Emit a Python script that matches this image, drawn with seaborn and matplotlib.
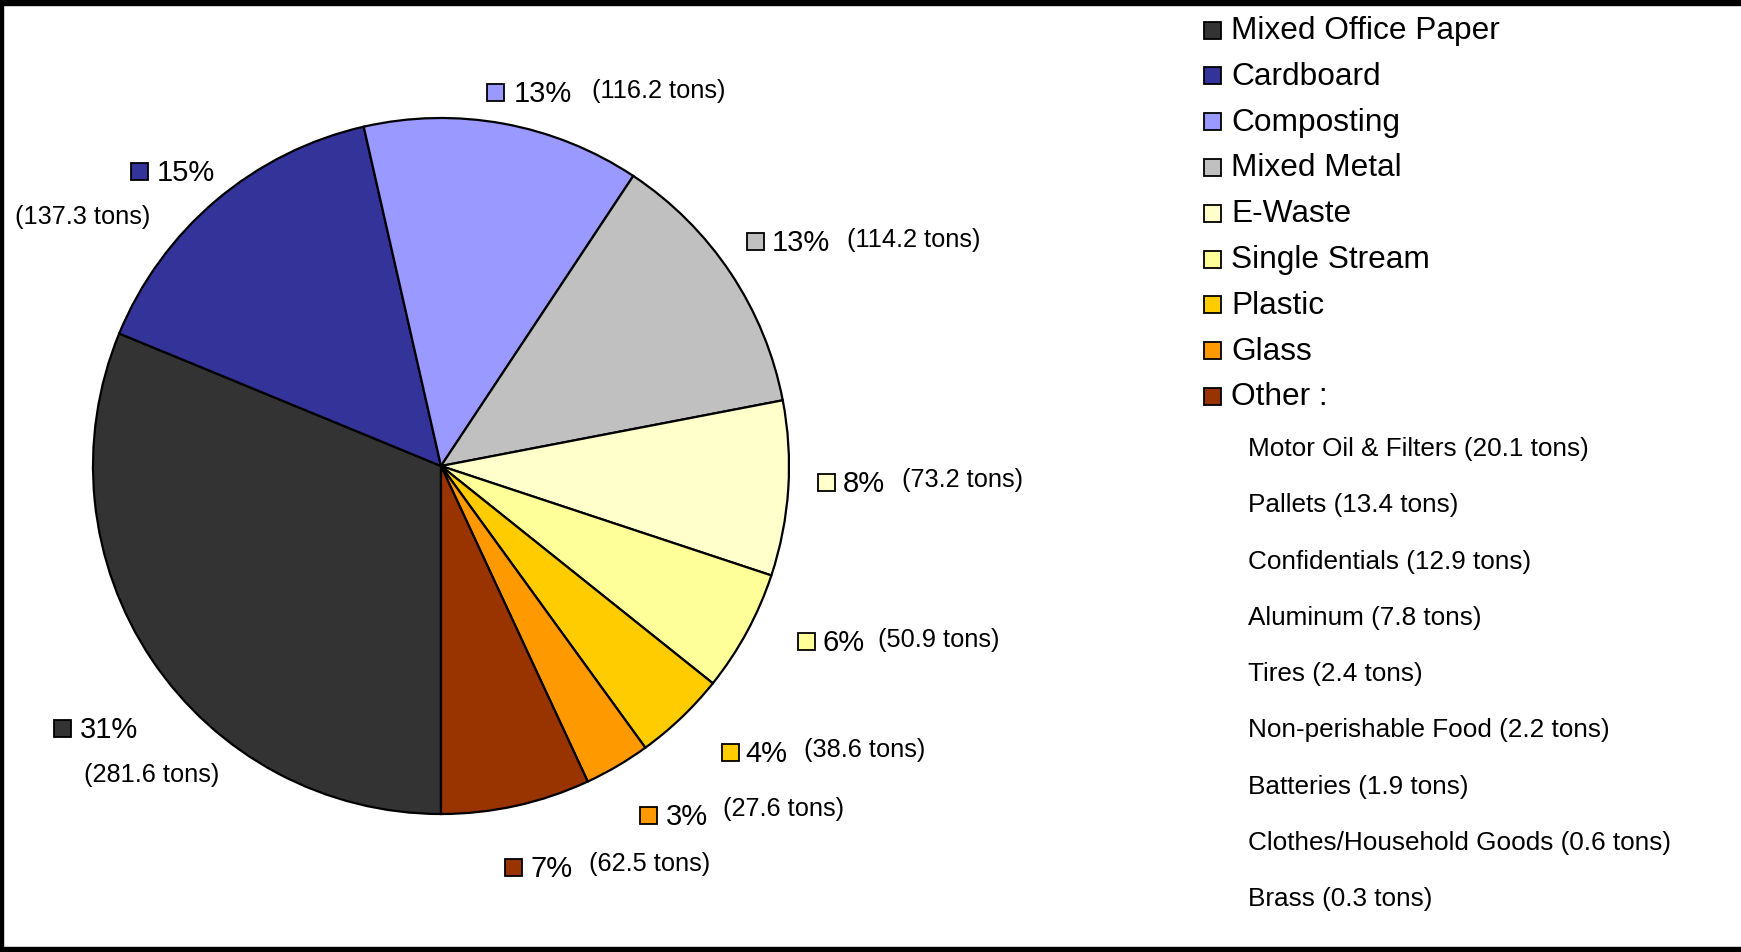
import matplotlib
matplotlib.use("Agg")
import matplotlib.pyplot as plt
from matplotlib.patches import Rectangle
import seaborn as sns

# ---------------- data ----------------
categories = ["Mixed Office Paper", "Cardboard", "Composting", "Mixed Metal",
              "E-Waste", "Single Stream", "Plastic", "Glass", "Other"]
tons = [281.6, 137.3, 116.2, 114.2, 73.2, 50.9, 38.6, 27.6, 62.5]
other_items = ["Motor Oil & Filters (20.1 tons)", "Pallets (13.4 tons)",
               "Confidentials (12.9 tons)", "Aluminum (7.8 tons)",
               "Tires (2.4 tons)", "Non-perishable Food (2.2 tons)",
               "Batteries (1.9 tons)", "Clothes/Household Goods (0.6 tons)",
               "Brass (0.3 tons)"]
colors = ["#333333", "#333399", "#9999FF", "#C0C0C0", "#FFFFCC",
          "#FFFF99", "#FFCC00", "#FF9900", "#993300"]

# ---------------- layout (pixel coords, y from top) ----------------
W, H = 1741, 952
PIE_CENTER = (441, 466)
PIE_RADIUS = 348
# label marker centre, percent text x, tons text (x, y)
label_marker = [(62, 728), (139, 171), (495, 92), (755, 241), (826, 482),
                (806, 641), (730, 752), (648, 815), (513, 867)]
label_pct_x = [80, 157, 514, 772, 843, 823, 745, 666, 530]
label_tons = [(84, 775), (15, 217), (592, 91), (847, 240), (902, 480),
              (878, 640), (804, 750), (723, 809), (589, 864)]
LEG_MARK_X = 1212
LEG_TEXT_X = 1231
LEG_Y0, LEG_DY = 30, 45.8
SUB_X = 1248
SUB_Y0, SUB_DY = 449, 56.3
MARK = 17

sns.set_theme(style="white")
plt.rcParams["font.family"] = ["Liberation Sans", "DejaVu Sans"]

fig = plt.figure(figsize=(W / 100, H / 100), dpi=100)
fig.patch.set_facecolor("white")
ax = fig.add_axes([0, 0, 1, 1])


def Y(y):
    return H - y


total = sum(tons)
ax.pie(tons, colors=colors, startangle=270, counterclock=False,
       center=(PIE_CENTER[0], Y(PIE_CENTER[1])), radius=PIE_RADIUS,
       wedgeprops=dict(edgecolor="black", linewidth=1.6))
ax.set_xlim(0, W)
ax.set_ylim(0, H)
ax.set_aspect("auto")
ax.axis("off")


def marker(x, y, c):
    ax.add_patch(Rectangle((x - MARK / 2, Y(y) - MARK / 2), MARK, MARK,
                           facecolor=c, edgecolor="black", linewidth=1.3,
                           clip_on=False, zorder=5))


# slice labels
for i, t in enumerate(tons):
    pct = f"{round(t / total * 100):d}%"
    mx, my = label_marker[i]
    marker(mx, my, colors[i])
    ax.text(label_pct_x[i], Y(my + 2), pct, fontsize=21, va="center",
            ha="left", color="black")
    tx, ty = label_tons[i]
    ax.text(tx, Y(ty), f"({t} tons)", fontsize=18.3, va="center",
            ha="left", color="black")

# legend
for i, cat in enumerate(categories):
    y = LEG_Y0 + i * LEG_DY
    marker(LEG_MARK_X, y, colors[i])
    name = cat + " :" if cat == "Other" else cat
    ax.text(LEG_TEXT_X, Y(y + 1), name, fontsize=22.8, va="center", ha="left",
            color="black")

for j, item in enumerate(other_items):
    ax.text(SUB_X, Y(SUB_Y0 + j * SUB_DY), item, fontsize=18.8, va="center",
            ha="left", color="black")

# outer frame (top, bottom, left)
ax.add_patch(Rectangle((0, H - 5), W, 5, color="black", clip_on=False))
ax.add_patch(Rectangle((0, 0), W, 5, color="black", clip_on=False))
ax.add_patch(Rectangle((0, 0), 2.5, H, color="black", clip_on=False))

fig.savefig("out.png", dpi=100, facecolor="white")
